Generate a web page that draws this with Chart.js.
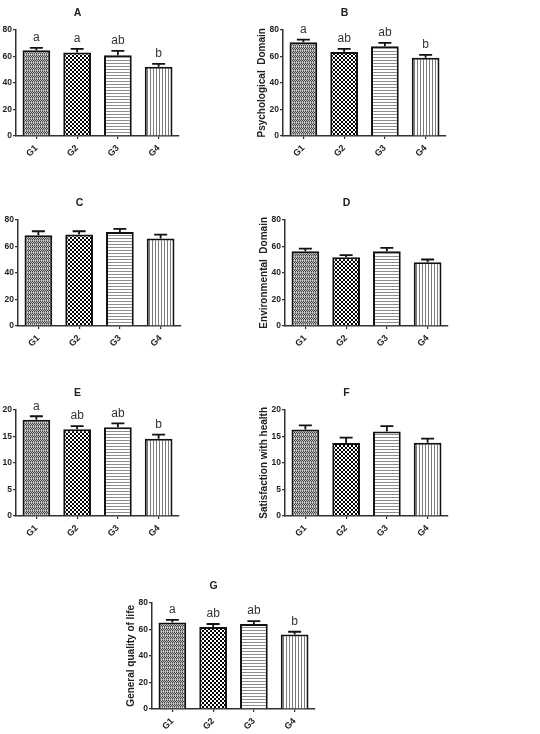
<!DOCTYPE html>
<html>
<head>
<meta charset="utf-8">
<script src="https://cdn.jsdelivr.net/npm/chart.js@4.4.1/dist/chart.umd.min.js"></script>
<style>
  html, body { margin: 0; padding: 0; background: #fff; }
  body { width: 540px; height: 734px; position: relative; overflow: hidden; }
  canvas { position: absolute; }
</style>
</head>
<body>
<canvas id="chartA"></canvas>
<canvas id="chartB"></canvas>
<canvas id="chartC"></canvas>
<canvas id="chartD"></canvas>
<canvas id="chartE"></canvas>
<canvas id="chartF"></canvas>
<canvas id="chartG"></canvas>
<script>
// groups on the x axis
const groups = ["G1", "G2", "G3", "G4"];

// means and SEM (upper error)
const physicalMeans = [64.5, 62.75, 60.75, 52];
const physicalSem = [1.75, 2.75, 3.25, 2.25];
const physicalLetters = ["a", "a", "ab", "b"];

const psychologicalMeans = [70.5, 63.25, 67.5, 58.75];
const psychologicalSem = [2, 2.25, 2.5, 2.25];
const psychologicalLetters = ["a", "ab", "ab", "b"];

const socialMeans = [68.25, 68.75, 70.75, 65.75];
const socialSem = [3, 2.5, 2.25, 3];

const environmentalMeans = [56.25, 51.75, 56.25, 48];
const environmentalSem = [2, 1.5, 2.5, 2];

const perceptionMeans = [18.1, 16.3, 16.7, 14.5];
const perceptionSem = [0.65, 0.6, 0.7, 0.8];
const perceptionLetters = ["a", "ab", "ab", "b"];

const healthMeans = [16.25, 13.7, 15.9, 13.75];
const healthSem = [0.8, 1.05, 1.0, 0.8];

const generalMeans = [65, 61.6, 63.9, 56.1];
const generalSem = [2, 2.3, 2.2, 2];
const generalLetters = ["a", "ab", "ab", "b"];

const ticks80 = [0, 20, 40, 60, 80];
const ticks20 = [0, 5, 10, 15, 20];

const FONT = "'Liberation Sans', Arial, sans-serif";

// fill patterns like the GraphPad bars
function makePattern(kind) {
  const c = document.createElement("canvas");
  const g = c.getContext("2d");
  if (kind === "dots") {
    c.width = 4; c.height = 4;
    for (let y = 0; y < 4; y++) {
      for (let x = 0; x < 4; x++) {
        g.fillStyle = (x + y) % 2 ? "#bdbdbd" : "#474747";
        if (y === 3) g.fillStyle = (x % 2) ? "#d6d6d6" : "#858585";
        g.fillRect(x, y, 1, 1);
      }
    }
  } else if (kind === "checker") {
    c.width = 4; c.height = 4;
    g.fillStyle = "#fff"; g.fillRect(0, 0, 4, 4);
    g.fillStyle = "#000";
    g.fillRect(0, 0, 2, 2); g.fillRect(2, 2, 2, 2);
  } else if (kind === "hlines") {
    c.width = 3; c.height = 3;
    g.fillStyle = "#fff"; g.fillRect(0, 0, 3, 3);
    g.fillStyle = "#8c8c8c"; g.fillRect(0, 0, 3, 1);
  } else {
    c.width = 3; c.height = 3;
    g.fillStyle = "#fff"; g.fillRect(0, 0, 3, 3);
    g.fillStyle = "#7a7a7a"; g.fillRect(0, 0, 1, 3);
  }
  return g.createPattern(c, "repeat");
}

const fills = [makePattern("dots"), makePattern("checker"), makePattern("hlines"), makePattern("vlines")];

// axisX / plotTop: where the y axis and its top tick sit on the page, titleX: centre of panel letter
const panels = [
  { id: "chartA", letter: "A", yTitle: "Physical Domain", means: physicalMeans, sem: physicalSem, letters: physicalLetters, ticks: ticks80, axisX: 16, plotTop: 29.3, titleX: 92 },
  { id: "chartB", letter: "B", yTitle: "Psychological  Domain", means: psychologicalMeans, sem: psychologicalSem, letters: psychologicalLetters, ticks: ticks80, axisX: 283.3, plotTop: 29.3, titleX: 360 },
  { id: "chartC", letter: "C", yTitle: "Social Domain", means: socialMeans, sem: socialSem, letters: null, ticks: ticks80, axisX: 18.3, plotTop: 219.3, titleX: 93 },
  { id: "chartD", letter: "D", yTitle: "Environmental  Domain", means: environmentalMeans, sem: environmentalSem, letters: null, ticks: ticks80, axisX: 285, plotTop: 219.3, titleX: 360 },
  { id: "chartE", letter: "E", yTitle: "Perception of quality of life", means: perceptionMeans, sem: perceptionSem, letters: perceptionLetters, ticks: ticks20, axisX: 16, plotTop: 409.3, titleX: 93.3 },
  { id: "chartF", letter: "F", yTitle: "Satisfaction with health", means: healthMeans, sem: healthSem, letters: null, ticks: ticks20, axisX: 285, plotTop: 409.3, titleX: 359.3 },
  { id: "chartG", letter: "G", yTitle: "General quality of life", means: generalMeans, sem: generalSem, letters: generalLetters, ticks: ticks80, axisX: 151.7, plotTop: 602.7, titleX: 226 }
];

const Y_W = 40, X_H = 30, TOP_H = 26.6, PLOT_H = 106.7;

panels.forEach(function (p) {
  const canvas = document.getElementById(p.id);
  const left = p.axisX - Y_W;
  const top = p.plotTop - TOP_H;
  const width = 2 * (p.titleX - left);
  const height = TOP_H + PLOT_H + X_H;
  canvas.width = Math.round(width);
  canvas.height = Math.round(height);
  canvas.style.left = left + "px";
  canvas.style.top = top + "px";
  canvas.style.width = Math.round(width) + "px";
  canvas.style.height = Math.round(height) + "px";

  const plotRight = p.axisX + 163;
  const padRight = Math.round(width) - (plotRight - left);

  const errorBars = {
    id: "errorBars" + p.letter,
    afterDatasetsDraw(chart) {
      const ctx = chart.ctx;
      const yScale = chart.scales.y;
      const meta = chart.getDatasetMeta(0);
      ctx.save();
      ctx.strokeStyle = "#111";
      ctx.lineWidth = 1.8;
      meta.data.forEach(function (bar, i) {
        const yTop = yScale.getPixelForValue(p.means[i] + p.sem[i]);
        ctx.beginPath();
        ctx.moveTo(bar.x, bar.y);
        ctx.lineTo(bar.x, yTop);
        ctx.moveTo(bar.x - 6.5, yTop);
        ctx.lineTo(bar.x + 6.5, yTop);
        ctx.stroke();
        if (p.letters) {
          ctx.fillStyle = "#333";
          ctx.font = "12px " + FONT;
          ctx.textAlign = "center";
          ctx.textBaseline = "bottom";
          ctx.fillText(p.letters[i], bar.x, yTop - 4);
        }
      });
      ctx.restore();
    }
  };

  new Chart(canvas, {
    type: "bar",
    data: {
      labels: groups,
      datasets: [{
        data: p.means,
        backgroundColor: fills,
        borderColor: "#111",
        borderWidth: 2,
        borderSkipped: "bottom",
        barPercentage: 0.85,
        categoryPercentage: 0.8
      }]
    },
    options: {
      responsive: false,
      animation: false,
      devicePixelRatio: 1,
      layout: { padding: { left: 0, right: padRight, top: 0, bottom: 0 } },
      plugins: {
        legend: { display: false },
        tooltip: { enabled: false },
        title: {
          display: true,
          text: p.letter,
          color: "#222",
          font: { family: FONT, size: 10.5, weight: "bold" },
          padding: { top: 4, bottom: 10 }
        }
      },
      scales: {
        x: {
          offset: true,
          grid: { display: true, drawOnChartArea: false, offset: false, tickLength: 3, color: "#333", lineWidth: 1.2 },
          border: { display: true, color: "#333", width: 1.5 },
          ticks: {
            color: "#222",
            font: { family: FONT, size: 9, weight: "bold" },
            minRotation: 45,
            maxRotation: 45,
            padding: 4
          },
          afterFit: function (scale) { scale.height = X_H; }
        },
        y: {
          min: p.ticks[0],
          max: p.ticks[p.ticks.length - 1],
          afterBuildTicks: function (scale) {
            scale.ticks = p.ticks.map(function (v) { return { value: v }; });
          },
          grid: { display: true, drawOnChartArea: false, tickLength: 3, color: "#333", lineWidth: 1.2 },
          border: { display: true, color: "#333", width: 1.5 },
          ticks: {
            color: "#222",
            font: { family: FONT, size: 8.5, weight: "bold" },
            padding: 1
          },
          title: {
            display: true,
            text: p.yTitle,
            color: "#222",
            font: { family: FONT, size: 10, weight: "bold" },
            padding: { top: 13.5, bottom: 0 }
          },
          afterFit: function (scale) { scale.width = Y_W; }
        }
      }
    },
    plugins: [errorBars]
  });
});
</script>
</body>
</html>
